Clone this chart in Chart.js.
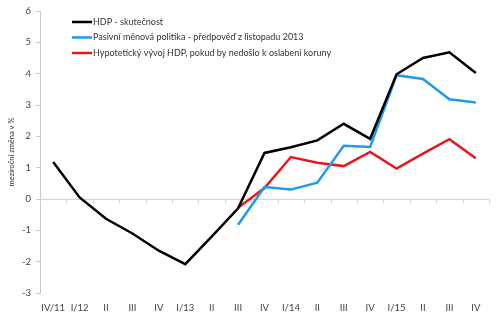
<!DOCTYPE html>
<html>
<head>
<meta charset="utf-8">
<script src="https://cdn.jsdelivr.net/npm/chart.js@4"></script>
<style>
  html, body { margin: 0; padding: 0; background: #fff; }
  #wrap { width: 500px; height: 323px; position: relative; }
</style>
</head>
<body>
<div id="wrap"><canvas id="c" width="500" height="323"></canvas></div>
<script>
// Quarterly labels
const quarters = ['IV/11', 'I/12', 'II', 'III', 'IV', 'I/13', 'II', 'III', 'IV',
                  'I/14', 'II', 'III', 'IV', 'I/15', 'II', 'III', 'IV'];

// Year-on-year GDP change, %
const hdpSkutecnost = [1.18, 0.05, -0.63, -1.10, -1.65, -2.08, -1.20, -0.30, 1.47,
                       1.65, 1.87, 2.40, 1.92, 3.98, 4.50, 4.68, 4.02];
const pasivniPolitika = [null, null, null, null, null, null, null, -0.82, 0.38,
                         0.30, 0.52, 1.70, 1.66, 3.95, 3.83, 3.18, 3.08];
const hypotetickyVyvoj = [null, null, null, null, null, null, null, -0.28, 0.35,
                          1.34, 1.16, 1.05, 1.50, 0.97, 1.45, 1.91, 1.30];

const seriesNames = [
  'HDP - skutečnost',
  'Pasivní měnová politika - předpověď z listopadu 2013',
  'Hypotetický vývoj HDP, pokud by nedošlo k oslabení koruny'
];
const seriesColors = ['#000000', '#1f9be8', '#e3191f'];

const yTicks = { min: -3, max: 6, step: 1 };
const FONT = 'Lato, "Liberation Sans", sans-serif';

// Horizontal zero line with small category separators below it
const zeroAxisPlugin = {
  id: 'zeroAxis',
  beforeDatasetsDraw(chart) {
    const { ctx, chartArea, scales: { x, y } } = chart;
    const y0 = Math.round(y.getPixelForValue(0)) + 0.5;
    ctx.save();
    ctx.strokeStyle = '#d4d4d4';
    ctx.lineWidth = 1;
    ctx.beginPath();
    ctx.moveTo(chartArea.left, y0);
    ctx.lineTo(chartArea.right, y0);
    const n = quarters.length;
    const step = (x.getPixelForValue(1) - x.getPixelForValue(0));
    for (let i = 0; i <= n; i++) {
      const px = Math.round(x.getPixelForValue(0) - step / 2 + i * step) + 0.5;
      ctx.moveTo(px, y0);
      ctx.lineTo(px, y0 + 4);
    }
    ctx.stroke();
    ctx.restore();
  }
};

// Legend drawn inside the plot area, top left
const innerLegendPlugin = {
  id: 'innerLegend',
  afterDatasetsDraw(chart) {
    const { ctx } = chart;
    const x0 = 72, y0 = 22, gap = 15.5;
    ctx.save();
    ctx.font = '9px ' + FONT;
    ctx.textBaseline = 'middle';
    chart.data.datasets.forEach((ds, i) => {
      const yy = y0 + i * gap;
      ctx.strokeStyle = ds.borderColor;
      ctx.lineWidth = 2.5;
      ctx.beginPath();
      ctx.moveTo(x0, yy);
      ctx.lineTo(x0 + 20, yy);
      ctx.stroke();
      ctx.fillStyle = '#333333';
      ctx.fillText(ds.label, x0 + 21, yy);
    });
    ctx.restore();
  }
};

const datasets = [hdpSkutecnost, pasivniPolitika, hypotetickyVyvoj].map((vals, i) => ({
  label: seriesNames[i],
  data: vals,
  borderColor: seriesColors[i],
  backgroundColor: seriesColors[i],
  borderWidth: 2.5,
  pointRadius: 0,
  tension: 0,
  fill: false
}));

new Chart(document.getElementById('c'), {
  type: 'line',
  data: { labels: quarters, datasets },
  options: {
    responsive: false,
    animation: false,
    devicePixelRatio: 1,
    layout: { padding: { top: 11, right: 11, left: 0, bottom: 0 } },
    plugins: {
      legend: { display: false },
      tooltip: { enabled: false }
    },
    scales: {
      x: {
        type: 'category',
        offset: true,
        grid: { display: false },
        border: { display: false },
        ticks: {
          color: '#444444',
          font: { family: FONT, size: 9.5 },
          padding: 1,
          maxRotation: 0,
          autoSkip: false
        },
        afterFit(scale) { scale.height = 30; }
      },
      y: {
        min: yTicks.min,
        max: yTicks.max,
        border: { display: true, color: '#c8c8c8', width: 1 },
        grid: {
          drawOnChartArea: false,
          drawTicks: true,
          tickLength: 4,
          tickColor: '#c8c8c8'
        },
        ticks: {
          stepSize: yTicks.step,
          color: '#444444',
          font: { family: FONT, size: 9.5 },
          padding: 5
        },
        title: {
          display: true,
          text: 'meziroční změna v %',
          color: '#333333',
          font: { family: FONT, size: 7.5 },
          padding: { top: 7, bottom: 0 }
        },
        afterFit(scale) { scale.width = 40; }
      }
    }
  },
  plugins: [zeroAxisPlugin, innerLegendPlugin]
});
</script>
</body>
</html>
